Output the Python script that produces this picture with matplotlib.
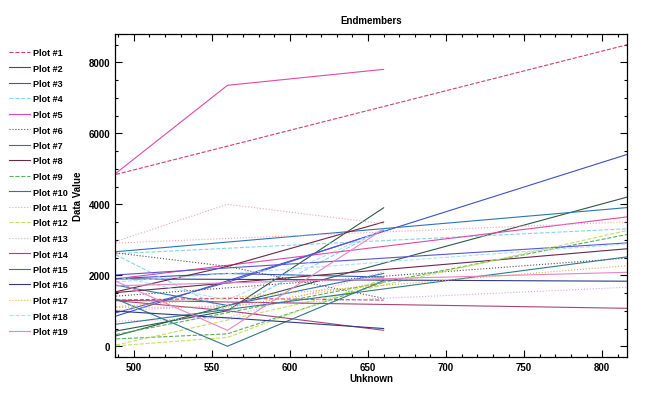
import matplotlib
matplotlib.use("Agg")
import matplotlib.pyplot as plt
from matplotlib.ticker import MultipleLocator

plt.rcParams['font.family'] = ['Liberation Sans', 'DejaVu Sans']

# wavelengths of the two kinds of traces
x_short = [485, 560, 660]
x_long = [485, 830]

labels = ["Plot #%d" % i for i in range(1, 20)]

colors = ['#d0406e', '#2e5a44', '#3a52c4', '#86d2f0', '#e048a8',
          '#505050', '#2a74b4', '#6a2848', '#58b058', '#5656d6',
          '#f0a4b4', '#c4e064', '#dca4e4', '#a84478', '#347888',
          '#303a86', '#e0b044', '#b0e0f4', '#e884c4']
styles = ['--', '-', '-', '--', '-', ':', '-', '-', '--', '-',
          ':', '--', ':', '-', '-', '-', ':', '--', '-']

# values of the 3-point traces (485, 560, 660)
short_vals = [
    [1300, 1350, 1300],
    [400, 1000, 3900],
    [1900, 2050, 1950],
    [2650, 1000, 3300],
    [4750, 7350, 7800],
    [2650, 2250, 1350],
    [1750, 1150, 2050],
    [1500, 2250, 3500],
    [200, 350, 1800],
    [900, 1800, 3250],
    [2900, 4000, 3450],
    [0, 250, 1900],
    [700, 800, 2100],
    [1300, 1000, 450],
    [1400, 0, 1850],
    [1000, 800, 500],
    [1100, 1100, 1800],
    [2000, 1300, 3300],
    [1900, 450, 3300],
]

# values of the 2-point traces (485, 830)
long_vals = [
    [4800, 8650],
    [250, 4370],
    [800, 5600],
    [2600, 3340],
    [1880, 3720],
    [1400, 2530],
    [2650, 3960],
    [1500, 2800],
    [300, 3270],
    [2000, 2950],
    [2900, 3530],
    [0, 3400],
    [1000, 1690],
    [1300, 1060],
    [600, 2600],
    [1900, 1830],
    [1100, 2320],
    [1800, 2930],
    [1700, 2100],
]

fig = plt.figure(figsize=(6.46, 4.10), dpi=100)
ax = fig.add_axes([0.178, 0.127, 0.793, 0.788])

handles = []
for i in range(19):
    h, = ax.plot(x_short, short_vals[i], color=colors[i], ls=styles[i], lw=0.8)
    ax.plot(x_long, long_vals[i], color=colors[i], ls=styles[i], lw=0.8)
    handles.append(h)

ax.set_xlim(488, 816)
ax.set_ylim(-300, 8800)
ax.xaxis.set_major_locator(MultipleLocator(50))
ax.xaxis.set_minor_locator(MultipleLocator(10))
ax.yaxis.set_major_locator(MultipleLocator(2000))
ax.yaxis.set_minor_locator(MultipleLocator(500))
ax.tick_params(which='both', direction='in', top=True, right=True,
               labelsize=7, width=0.8)
ax.tick_params(which='major', length=5)
ax.tick_params(which='minor', length=2.5)
for lab in ax.get_xticklabels() + ax.get_yticklabels():
    lab.set_fontweight('bold')
for s in ax.spines.values():
    s.set_linewidth(0.9)

ax.set_title("Endmembers", fontsize=7, fontweight='bold', pad=8)
ax.set_xlabel("Unknown", fontsize=7, fontweight='bold', labelpad=1)
ax.set_ylabel("Data Value", fontsize=7, fontweight='bold', labelpad=4)

fig.legend(handles, labels, loc='upper left',
           bbox_to_anchor=(9 / 646, 1 - 49 / 410), frameon=False,
           prop={'weight': 'bold', 'size': 6.5},
           handlelength=2.3, handletextpad=0.4, labelspacing=0.72,
           borderpad=0, borderaxespad=0)

fig.savefig("out.png", dpi=100)
